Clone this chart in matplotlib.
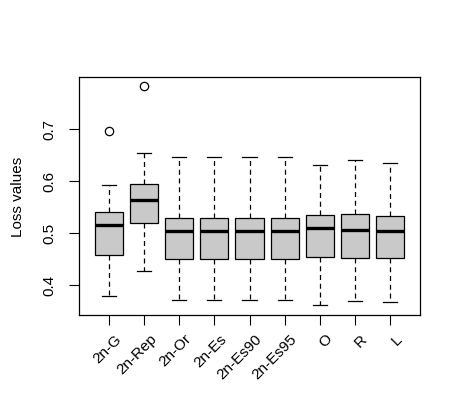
import matplotlib
matplotlib.use('Agg')
import matplotlib.pyplot as plt

plt.rcParams['font.family'] = ['Liberation Sans', 'DejaVu Sans']

# boxplot summary
methods = ['2n-G', '2n-Rep', '2n-Or', '2n-Es', '2n-Es90', '2n-Es95', 'O', 'R', 'L']
whislo = [0.378, 0.426, 0.371, 0.371, 0.371, 0.371, 0.361, 0.369, 0.367]
q1 = [0.457, 0.520, 0.449, 0.449, 0.449, 0.449, 0.453, 0.451, 0.451]
med = [0.516, 0.564, 0.503, 0.503, 0.503, 0.503, 0.510, 0.506, 0.503]
q3 = [0.540, 0.594, 0.528, 0.528, 0.528, 0.528, 0.535, 0.536, 0.533]
whishi = [0.593, 0.654, 0.6455, 0.6455, 0.6455, 0.6455, 0.630, 0.640, 0.635]
outliers = [[0.696], [0.783], [], [], [], [], [], [], []]

stats = []
for i in range(len(methods)):
    stats.append({'label': methods[i], 'whislo': whislo[i], 'q1': q1[i], 'med': med[i],
                  'q3': q3[i], 'whishi': whishi[i], 'fliers': outliers[i]})

fig = plt.figure(figsize=(4.6, 4.14), dpi=100)
ax = fig.add_axes([79/460, 1-316/414, (420-79)/460, (316-78)/414])

pos = list(range(1, len(methods)+1))
ax.bxp(stats, positions=pos, widths=0.8, patch_artist=True, capwidths=0.4,
       boxprops=dict(facecolor='#c9c9c9', edgecolor='black', linewidth=0.9),
       medianprops=dict(color='black', linewidth=2.4, solid_capstyle='butt'),
       whiskerprops=dict(color='black', linewidth=0.9, linestyle=(0, (4, 3))),
       capprops=dict(color='black', linewidth=0.9),
       flierprops=dict(marker='o', markerfacecolor='none', markeredgecolor='black',
                       markersize=6, markeredgewidth=0.9))

ax.set_xlim(0.14, 9.86)
ax.set_ylim(0.342, 0.8)
ax.set_yticks([0.4, 0.5, 0.6, 0.7])
ax.set_yticklabels(['0.4', '0.5', '0.6', '0.7'], rotation=90, va='center', fontsize=11)
ax.tick_params(axis='y', length=7, pad=9, width=0.8)
ax.set_xticks(pos)
ax.set_xticklabels([])
ax.tick_params(axis='x', length=7, width=0.8)
for sp in ax.spines.values():
    sp.set_linewidth(0.9)

# rotated labels like R's text(srt=45)
for p, lab in zip(pos, methods):
    ax.annotate(lab, xy=(p, 0), xycoords=('data', 'axes fraction'),
                xytext=(5, -16), textcoords='offset pixels',
                rotation=45, ha='right', va='top', rotation_mode='anchor',
                fontsize=11, annotation_clip=False)

ax.set_ylabel('Loss values', fontsize=11, labelpad=13)

fig.savefig('out.png', dpi=100)
